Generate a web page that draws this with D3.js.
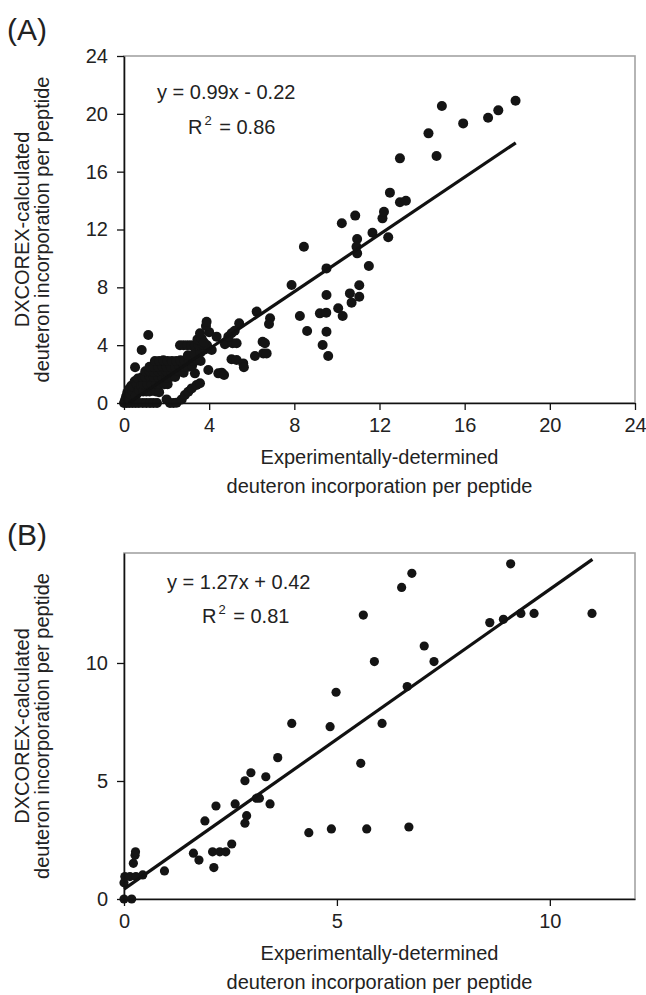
<!DOCTYPE html>
<html>
<head>
<meta charset="utf-8">
<script src="https://cdn.jsdelivr.net/npm/d3@7"></script>
<style>
  body { margin: 0; background: #fff; }
  svg { display: block; font-family: "Liberation Sans", Arial, sans-serif; }
</style>
</head>
<body>
<svg id="fig" width="646" height="995"></svg>
<script>
// ---- panel A: experimental vs DXCOREX deuteron uptake (all peptides)
const pointsA = [
  [0.00,0.00],[0.12,0.00],[0.25,0.00],[0.40,0.00],[0.55,0.00],[0.70,0.00],[0.88,0.00],[1.05,0.00],[1.22,0.00],[1.38,0.00],[1.55,0.00],
  [2.00,0.25],[2.16,0.00],[2.32,0.00],[2.47,0.02],[2.71,0.25],[2.86,0.55],[3.02,0.78],[3.18,1.01],[3.41,1.24],[3.57,1.36],
  [0.05,0.20],[0.10,0.45],[0.20,0.30],[0.15,0.70],[0.30,0.60],[0.25,1.00],[0.35,1.20],[0.40,0.80],[0.50,1.50],[0.45,1.10],
  [0.60,1.30],[0.55,0.50],[0.70,0.90],[0.65,1.70],[0.80,1.20],
  [0.90,0.80],[1.05,0.80],[1.20,0.80],[1.35,0.85],[1.50,0.80],[1.65,0.75],
  [0.90,1.30],[1.10,1.30],[1.30,1.30],[1.50,1.35],[1.70,1.30],[1.90,1.30],[2.05,1.30],
  [0.85,1.80],[1.00,1.80],[1.20,1.85],[1.40,1.80],[1.60,1.80],[1.80,1.80],[2.00,1.75],[2.20,1.80],[2.40,1.80],
  [1.00,2.20],[1.20,2.20],[1.40,2.15],[1.60,2.20],[1.80,2.20],[2.00,2.20],[2.20,2.20],[2.40,2.25],[2.60,2.20],[2.80,2.10],[3.33,2.05],[3.96,2.28],
  [0.52,2.47],[1.20,2.50],[1.40,2.50],[1.60,2.50],[1.80,2.55],[2.00,2.50],[2.20,2.50],[2.40,2.50],[2.60,2.55],[2.80,2.50],[3.00,2.50],[3.20,2.60],
  [1.45,2.90],[1.65,2.90],[1.85,2.95],[2.05,2.90],[2.25,2.90],[2.45,2.90],[2.65,2.95],[2.85,2.90],[3.05,2.90],[3.25,2.90],[3.45,2.95],[3.60,2.90],
  [3.00,3.30],[3.30,3.40],[3.60,3.50],[3.80,3.70],[4.12,3.67],
  [2.63,4.00],[2.80,4.00],[2.98,4.00],[3.15,4.00],[3.33,4.00],[3.50,4.00],[3.70,4.05],[3.90,4.00],[4.74,4.06],[5.10,4.13],[5.29,4.13],
  [3.45,4.40],[3.65,4.45],[3.75,4.20],[3.57,4.82],[4.00,4.90],[4.35,4.59],[4.90,4.59],[5.05,4.82],[5.20,5.00],[3.85,5.33],[3.88,5.62],
  [1.14,4.70],[0.83,3.67],
  [4.43,2.05],[4.59,2.10],[4.70,1.94],[5.05,3.02],[5.29,2.97],[5.60,2.74],[5.63,2.47],
  [5.41,5.51],[6.23,6.32],[6.86,5.86],[6.81,5.46],[6.51,4.24],[6.62,4.13],[6.15,3.25],[6.54,3.43],[6.70,3.43],
  [7.87,8.16],[8.45,10.81],[8.26,6.02],[8.60,4.98],[9.20,6.20],[9.50,6.25],[9.51,4.93],[9.33,4.01],[9.59,3.25],[9.51,9.31],[9.51,7.47],
  [10.06,6.55],[10.27,6.02],[10.61,7.58],[10.69,6.94],[11.05,7.35],[11.05,8.14],[10.23,12.43],[10.86,12.96],[10.95,11.34],[10.92,10.81],
  [10.95,10.35],[11.50,9.47],[11.67,11.78],[12.41,11.46],[12.14,12.77],[12.21,13.23],[12.49,14.55],[12.96,13.88],[13.24,13.99],[12.96,16.92],
  [14.68,17.08],[14.30,18.65],[14.93,20.54],[15.93,19.34],[17.10,19.73],[17.58,20.24],[18.39,20.91]
];
const ticksA = [0, 4, 8, 12, 16, 20, 24];
const fitA = { slope: 0.99, intercept: -0.22, from: 0.22, to: 18.4 };
const eqA = ['y = 0.99x - 0.22', '0.86'];

// ---- panel B
const pointsB = [
  [0.00,0.00],[0.18,0.00],[0.00,0.69],[0.02,0.95],[0.14,0.95],[0.28,0.95],[0.44,1.02],[0.22,1.51],[0.26,1.85],[0.27,2.00],
  [0.95,1.19],[1.63,1.94],[1.76,1.65],[1.90,3.31],[2.08,2.00],[2.11,1.33],[2.16,3.94],[2.25,2.00],[2.39,2.00],[2.53,2.33],
  [2.61,4.03],[2.84,3.21],[2.88,3.53],[2.84,5.01],[2.98,5.35],[3.11,4.27],[3.18,4.27],[3.33,5.18],[3.43,4.03],[3.61,5.99],
  [3.94,7.44],[4.34,2.81],[4.84,7.30],[4.98,8.76],[4.87,2.97],[5.56,5.75],[5.62,12.03],[5.88,10.06],[5.70,2.97],[6.06,7.44],
  [6.52,13.20],[6.65,9.00],[6.69,3.05],[6.76,13.80],[7.05,10.72],[7.28,10.06],[8.59,11.71],[8.91,11.85],[9.08,14.20],[9.32,12.10],
  [9.63,12.10],[10.99,12.10]
];
const ticksBx = [0, 5, 10];
const ticksBy = [0, 5, 10];
const fitB = { slope: 1.27, intercept: 0.42, from: 0, to: 11.0 };
const eqB = ['y = 1.27x + 0.42', '0.81'];

const yTitle = ['DXCOREX-calculated', 'deuteron incorporation per peptide'];
const xTitle = ['Experimentally-determined', 'deuteron incorporation per peptide'];

const LEFT = 124, RIGHT = 635;
const svg = d3.select('#fig');

const panels = [
  { tag: '(A)', tagY: 40, top: 56, bottom: 403, xDom: [0, 24], yDom: [0, 24],
    xTicks: ticksA, yTicks: ticksA, pts: pointsA, fit: fitA, eq: eqA, r: 5,
    eqPos: [157, 99], r2Pos: [188, 134] },
  { tag: '(B)', tagY: 545, top: 553, bottom: 899, xDom: [0, 12], yDom: [0, 14.66],
    xTicks: ticksBx, yTicks: ticksBy, pts: pointsB, fit: fitB, eq: eqB, r: 4.6,
    eqPos: [167, 589], r2Pos: [202, 623] }
];

function styleAxis(sel) {
  sel.select('.domain').attr('stroke', '#111').attr('stroke-width', 1.6);
  sel.selectAll('.tick line').attr('stroke', '#111').attr('stroke-width', 1.3);
  sel.selectAll('.tick text').attr('font-size', 20).attr('fill', '#222')
     .attr('font-family', '"Liberation Sans", Arial, sans-serif');
  sel.attr('font-size', null).attr('font-family', null);
}

function drawPanel(p) {
  const x = d3.scaleLinear().domain(p.xDom).range([LEFT, RIGHT]);
  const y = d3.scaleLinear().domain(p.yDom).range([p.bottom, p.top]);
  const g = svg.append('g');

  svg.append('text').attr('x', 7).attr('y', p.tagY)
    .attr('font-size', 30).attr('fill', '#222').text(p.tag);

  // grey frame, left/bottom get covered by the axes
  g.append('rect').attr('x', LEFT).attr('y', p.top)
    .attr('width', RIGHT - LEFT).attr('height', p.bottom - p.top)
    .attr('fill', 'none').attr('stroke', '#a3a3a3').attr('stroke-width', 1.6);

  g.append('g').selectAll('circle').data(p.pts).join('circle')
    .attr('cx', d => x(d[0])).attr('cy', d => y(d[1]))
    .attr('r', p.r).attr('fill', '#141414');

  const f = p.fit;
  g.append('line')
    .attr('x1', x(f.from)).attr('y1', y(f.slope * f.from + f.intercept))
    .attr('x2', x(f.to)).attr('y2', y(f.slope * f.to + f.intercept))
    .attr('stroke', '#111').attr('stroke-width', 3.2);

  g.append('g').attr('transform', `translate(0,${p.bottom})`)
    .call(d3.axisBottom(x).tickValues(p.xTicks).tickSize(7).tickPadding(8).tickSizeOuter(0))
    .call(styleAxis);

  g.append('g').attr('transform', `translate(${LEFT},0)`)
    .call(d3.axisLeft(y).tickValues(p.yTicks).tickSize(7).tickPadding(9).tickSizeOuter(0))
    .call(styleAxis);

  // axis titles
  const cx = (LEFT + RIGHT) / 2, cy = (p.top + p.bottom) / 2;
  xTitle.forEach((t, i) => {
    g.append('text').attr('x', cx).attr('y', p.bottom + 61 + i * 29)
      .attr('text-anchor', 'middle').attr('font-size', 20).attr('fill', '#222').text(t);
  });
  yTitle.forEach((t, i) => {
    g.append('text').attr('transform', `translate(${29 + i * 20},${cy}) rotate(-90)`)
      .attr('text-anchor', 'middle').attr('font-size', 20).attr('fill', '#222').text(t);
  });

  // regression equation
  g.append('text').attr('x', p.eqPos[0]).attr('y', p.eqPos[1])
    .attr('font-size', 20).attr('fill', '#222').text(p.eq[0]);
  const r2 = g.append('text').attr('x', p.r2Pos[0]).attr('y', p.r2Pos[1])
    .attr('font-size', 20).attr('fill', '#222');
  r2.append('tspan').text('R');
  r2.append('tspan').attr('font-size', 13).attr('dy', -9).attr('dx', 2).text('2');
  r2.append('tspan').attr('dy', 9).attr('dx', 2).text(' = ' + p.eq[1]);
}

panels.forEach(drawPanel);
</script>
</body>
</html>
